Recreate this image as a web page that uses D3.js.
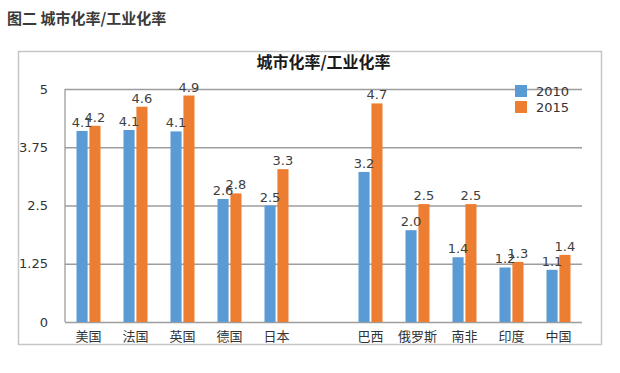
<!DOCTYPE html>
<html>
<head>
<meta charset="utf-8">
<script src="https://cdn.jsdelivr.net/npm/d3@7"></script>
<style>
  body { margin: 0; background: #fff; }
  svg { display: block; }
</style>
</head>
<body>
<div id="chart"></div>
<script>
// ===============================
// DATOS
// ===============================
const categories = ['美国', '法国', '英国', '德国', '日本', '', '巴西', '俄罗斯', '南非', '印度', '中国'];
const years = ['2010', '2015'];
const values2010 = [4.10, 4.12, 4.09, 2.64, 2.50, null, 3.22, 1.97, 1.39, 1.17, 1.12];
const values2015 = [4.21, 4.62, 4.86, 2.76, 3.28, null, 4.69, 2.53, 2.53, 1.29, 1.44];
const yTicks = [0, 1.25, 2.5, 3.75, 5];
const yTickLabels = ['0', '1.25', '2.5', '3.75', '5'];

const pageTitle = '图二 城市化率/工业化率';
const chartTitle = '城市化率/工业化率';

// ===============================
// RENDER
// ===============================
const width = 620;
const height = 373;
const colors = { '2010': '#5b9bd5', '2015': '#ed7d31' };
const cjk = '"Noto Sans CJK SC", "Noto Sans", sans-serif';
const latin = '"DejaVu Sans", Verdana, sans-serif';

const svg = d3.select('#chart')
  .append('svg')
  .attr('width', width)
  .attr('height', height);

// Título de la página
svg.append('text')
  .attr('x', 7)
  .attr('y', 24)
  .attr('font-family', cjk)
  .attr('font-size', 15)
  .attr('font-weight', 'bold')
  .attr('fill', '#3a3a3a')
  .text(pageTitle);

// Marco del gráfico
svg.append('rect')
  .attr('x', 18.5)
  .attr('y', 51.5)
  .attr('width', 583)
  .attr('height', 293)
  .attr('fill', '#fff')
  .attr('stroke', '#c6c6c6')
  .attr('stroke-width', 1.5);

const plot = { left: 65, right: 582, top: 89, bottom: 322 };

svg.append('text')
  .attr('x', (plot.left + plot.right) / 2)
  .attr('y', 68)
  .attr('text-anchor', 'middle')
  .attr('font-family', cjk)
  .attr('font-size', 16)
  .attr('font-weight', 'bold')
  .attr('fill', '#1a1a1a')
  .text(chartTitle);

// Escalas
const x = d3.scaleBand()
  .domain(categories.map((c, i) => i))
  .range([plot.left, plot.right]);

const xInner = d3.scaleBand()
  .domain(years)
  .range([x.bandwidth() / 2 - 12, x.bandwidth() / 2 + 12])
  .paddingInner(0.14);

const y = d3.scaleLinear()
  .domain([0, 5])
  .range([plot.bottom, plot.top]);

// Rejilla
const yAxis = d3.axisLeft(y)
  .tickValues(yTicks)
  .tickFormat((d, i) => yTickLabels[i])
  .tickSize(-(plot.right - plot.left))
  .tickPadding(17);

const gy = svg.append('g')
  .attr('transform', `translate(${plot.left},0)`)
  .call(yAxis);
gy.select('.domain').remove();
gy.selectAll('.tick line')
  .attr('stroke', '#9d9d9d')
  .attr('stroke-width', 1.3);
gy.selectAll('.tick text')
  .attr('font-family', latin)
  .attr('font-size', 13)
  .attr('fill', '#333');

// Eje vertical
svg.append('line')
  .attr('x1', plot.left).attr('x2', plot.left)
  .attr('y1', plot.top).attr('y2', plot.bottom)
  .attr('stroke', '#9d9d9d')
  .attr('stroke-width', 1.3);

// Eje de categorías
const xAxis = d3.axisBottom(x)
  .tickFormat(i => categories[i])
  .tickSize(0)
  .tickPadding(10);

const gx = svg.append('g')
  .attr('transform', `translate(0,${plot.bottom})`)
  .call(xAxis);
gx.select('.domain').remove();
gx.selectAll('.tick text')
  .attr('font-family', cjk)
  .attr('font-size', 13)
  .attr('fill', '#333');

// Barras
const rows = [];
categories.forEach((c, i) => {
  [values2010[i], values2015[i]].forEach((v, k) => {
    if (v != null) rows.push({ idx: i, year: years[k], value: v });
  });
});

svg.append('g')
  .selectAll('rect')
  .data(rows)
  .enter()
  .append('rect')
  .attr('x', d => x(d.idx) + xInner(d.year))
  .attr('y', d => y(d.value))
  .attr('width', xInner.bandwidth())
  .attr('height', d => y(0) - y(d.value))
  .attr('fill', d => colors[d.year]);

// Etiquetas de valor
svg.append('g')
  .selectAll('text')
  .data(rows)
  .enter()
  .append('text')
  .attr('x', d => x(d.idx) + xInner(d.year) + xInner.bandwidth() / 2)
  .attr('y', d => y(d.value) - 4)
  .attr('text-anchor', 'middle')
  .attr('font-family', latin)
  .attr('font-size', 13)
  .attr('fill', '#404040')
  .text(d => d3.format('.1f')(d.value));

// Leyenda
const legend = svg.append('g')
  .selectAll('g')
  .data(years)
  .enter()
  .append('g')
  .attr('transform', (d, i) => `translate(515,${85 + i * 16})`);

legend.append('rect')
  .attr('width', 12)
  .attr('height', 12)
  .attr('fill', d => colors[d]);

legend.append('text')
  .attr('x', 21)
  .attr('y', 11)
  .attr('font-family', latin)
  .attr('font-size', 13)
  .attr('fill', '#333')
  .text(d => d);
</script>
</body>
</html>
